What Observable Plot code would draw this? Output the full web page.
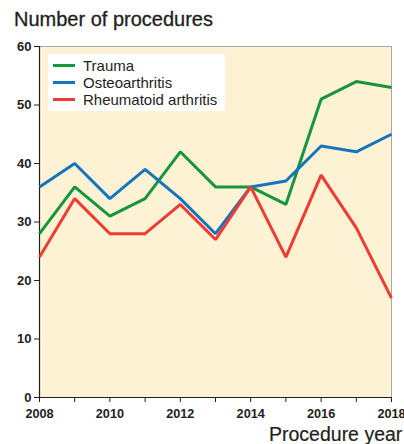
<!DOCTYPE html>
<html><head><meta charset="utf-8">
<script src="https://cdn.jsdelivr.net/npm/d3@7"></script>
<script src="https://cdn.jsdelivr.net/npm/@observablehq/plot@0.6"></script>
<style>
html,body{margin:0;padding:0;background:#fff;}
#wrap{position:relative;width:404px;height:444px;font-family:"Liberation Sans",Arial,sans-serif;overflow:hidden;}
#title{position:absolute;left:14px;top:8px;font-size:20px;color:#231f20;-webkit-text-stroke:0.3px #231f20;}
#xlabel{position:absolute;left:269px;top:423px;font-size:19.5px;color:#231f20;white-space:nowrap;-webkit-text-stroke:0.2px #231f20;}
#legend{position:absolute;left:48px;top:54px;width:177px;height:57px;background:#fff;font-size:15px;color:#231f20;}
.li{position:absolute;left:5px;height:17px;display:flex;align-items:center;}
.sw{width:22px;height:3px;margin-right:8px;}
</style></head>
<body><div id="wrap"><div id="title">Number of procedures</div><div id="xlabel">Procedure year</div></div>
<script>
const years = [2008,2009,2010,2011,2012,2013,2014,2015,2016,2017,2018];
const series = ["Trauma","Osteoarthritis","Rheumatoid arthritis"];
const colors = ["#16953c","#1474bd","#ee3b33"];
const trauma = [28,36,31,34,42,36,36,33,51,54,53];
const osteo = [36,40,34,39,34,28,36,37,43,42,45];
const rheum = [24,34,28,28,33,27,36,24,38,29,17];
const yTicks = [0,10,20,30,40,50,60];

const data = [];
[trauma, osteo, rheum].forEach((vals, i) => vals.forEach((v, j) => data.push({year: years[j], value: v, series: series[i]})));

const chart = Plot.plot({
  width: 404, height: 444,
  marginLeft: 39, marginRight: 13, marginTop: 46, marginBottom: 47,
  style: {fontFamily: '"Liberation Sans",Arial,sans-serif', background: "transparent"},
  x: {domain: [2008, 2018]},
  y: {domain: [0, 60]},
  color: {domain: series, range: colors},
  marks: [
    Plot.frame({fill: "#fdf2d4", stroke: "#a8a8a8", strokeWidth: 1}),
    Plot.axisY({ticks: yTicks, tickSize: 5, tickPadding: 3, fontSize: 13, fontWeight: "bold", color: "#231f20", label: null, stroke: "#231f20"}),
    Plot.axisX({ticks: years, tickSize: 5, tickPadding: 6, fontSize: 12.7, fontWeight: "bold", color: "#231f20", label: null, tickFormat: d => d % 2 === 0 ? String(d) : ""}),
    Plot.ruleX([2008], {stroke: "#231f20", strokeWidth: 1.2}),
    Plot.ruleY([0], {stroke: "#231f20", strokeWidth: 1.2}),
    Plot.line(data, {x: "year", y: "value", z: "series", stroke: "series", strokeWidth: 3, strokeLinejoin: "miter", strokeLinecap: "butt"})
  ]
});
const wrap = document.getElementById("wrap");
chart.style.position = "absolute"; chart.style.left = "0"; chart.style.top = "0";
wrap.insertBefore(chart, wrap.firstChild);

const leg = document.createElement("div");
leg.id = "legend";
series.forEach((s, i) => {
  const li = document.createElement("div");
  li.className = "li";
  li.style.top = (3 + i * 17) + "px";
  li.innerHTML = `<span class="sw" style="background:${colors[i]}"></span><span>${s}</span>`;
  leg.appendChild(li);
});
wrap.appendChild(leg);
</script></body></html>
